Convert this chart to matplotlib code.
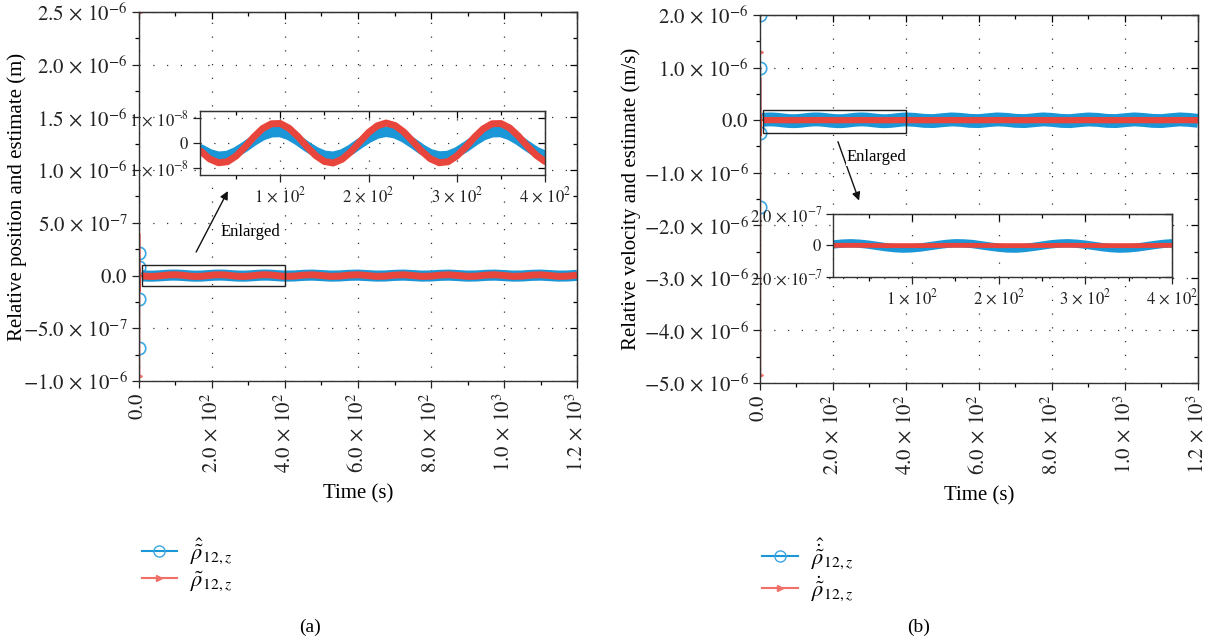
import numpy as np
import matplotlib.pyplot as plt
from matplotlib.lines import Line2D
from matplotlib.patches import Rectangle
from matplotlib.ticker import MultipleLocator, NullFormatter

plt.rcParams['font.family'] = ['Liberation Serif', 'DejaVu Serif']
plt.rcParams['mathtext.fontset'] = 'stix'

# time axis (s): short start-up transient, then the steady part
t_start = [0, 0.4, 0.8, 1.2, 1.6, 2.5, 4, 6, 8]
t_steady = list(range(10, 401, 10)) + list(range(425, 1201, 25))

# (a) relative position, in units of 1e-8 m
pos_est_start = [21, -69, -22, 8, -3, 1, -0.4, -0.3, -0.25]
pos_est_steady = [-0.26, -0.45, -0.55, -0.52, -0.37, -0.15, 0.10, 0.31, 0.43, 0.44,
                  0.32, 0.11, -0.14, -0.36, -0.51, -0.55, -0.46, -0.27, -0.02, 0.21,
                  0.38, 0.45, 0.39, 0.23, 0.00, -0.25, -0.45, -0.54, -0.52, -0.38,
                  -0.16, 0.09, 0.31, 0.43, 0.44, 0.32, 0.12, -0.13, -0.36, -0.51,
                  -0.37, 0.21, 0.44, -0.01, -0.51, -0.36, 0.22, 0.43, -0.02, -0.50,
                  -0.38, 0.20, 0.44, 0.00, -0.51, -0.37, 0.21, 0.45, -0.01, -0.52,
                  -0.36, 0.22, 0.43, -0.02, -0.50, -0.37, 0.21, 0.44, -0.01, -0.51,
                  -0.37, 0.20]
pos_err_start = [250, -95, 40, -15, 6, -2, 0.5, -0.2, -0.3]
pos_err_steady = [-0.33, -0.64, -0.79, -0.75, -0.52, -0.16, 0.24, 0.58, 0.77, 0.78,
                  0.59, 0.26, -0.14, -0.50, -0.74, -0.80, -0.65, -0.35, 0.04, 0.42,
                  0.69, 0.80, 0.70, 0.44, 0.07, -0.32, -0.63, -0.79, -0.75, -0.52,
                  -0.17, 0.23, 0.57, 0.77, 0.78, 0.60, 0.27, -0.13, -0.49, -0.74,
                  -0.52, 0.42, 0.78, 0.06, -0.74, -0.53, 0.41, 0.79, 0.05, -0.74,
                  -0.52, 0.42, 0.78, 0.07, -0.75, -0.52, 0.43, 0.78, 0.06, -0.74,
                  -0.51, 0.42, 0.79, 0.06, -0.74, -0.52, 0.41, 0.78, 0.06, -0.75,
                  -0.52, 0.42]

# (b) relative velocity, in units of 1e-7 m/s
vel_est_start = [20, -16.5, 10, -2.5, 1, -0.3, 0.1, 0.05, 0.05]
vel_est_steady = [0.07, 0.12, 0.14, 0.11, 0.05, -0.03, -0.11, -0.17, -0.20, -0.18,
                  -0.13, -0.05, 0.03, 0.10, 0.14, 0.13, 0.09, 0.01, -0.07, -0.14,
                  -0.19, -0.20, -0.16, -0.09, -0.01, 0.07, 0.12, 0.14, 0.11, 0.05,
                  -0.03, -0.11, -0.17, -0.20, -0.18, -0.13, -0.05, 0.03, 0.10, 0.14,
                  0.05, -0.14, -0.18, -0.01, 0.14, 0.05, -0.14, -0.18, -0.01, 0.14,
                  0.06, -0.13, -0.18, -0.02, 0.14, 0.05, -0.14, -0.19, -0.01, 0.13,
                  0.05, -0.14, -0.18, -0.01, 0.14, 0.04, -0.14, -0.18, -0.01, 0.14,
                  0.05, -0.13]
vel_err_start = [13, -48.5, 8, -3, 1, -0.2, 0.05, 0.0, 0.0]
vel_err_steady = [0.01, 0.01, 0.01, 0.01, 0.00, 0.00, -0.01, -0.01, -0.01, -0.01,
                  -0.01, 0.00, 0.00, 0.01, 0.01, 0.01, 0.01, 0.00, 0.00, -0.01,
                  -0.01, -0.01, -0.01, -0.01, 0.00, 0.00, 0.01, 0.01, 0.01, 0.00,
                  0.00, -0.01, -0.01, -0.01, -0.01, -0.01, 0.00, 0.00, 0.01, 0.01,
                  0.00, -0.01, -0.01, 0.00, 0.01, 0.00, -0.01, -0.01, 0.00, 0.01,
                  0.00, -0.01, -0.01, 0.00, 0.01, 0.00, -0.01, -0.01, 0.00, 0.01,
                  0.00, -0.01, -0.01, 0.00, 0.01, 0.00, -0.01, -0.01, 0.00, 0.01,
                  0.00, -0.01]

# tick labels
S = r'\,\times\,'
x_ticks = [0, 200, 400, 600, 800, 1000, 1200]
x_labels = [r'$0.0$', rf'$2.0{S}10^2$', rf'$4.0{S}10^2$', rf'$6.0{S}10^2$',
            rf'$8.0{S}10^2$', rf'$1.0{S}10^3$', rf'$1.2{S}10^3$']
pos_ticks = [-1e-6, -5e-7, 0, 5e-7, 1e-6, 1.5e-6, 2e-6, 2.5e-6]
pos_labels = [rf'$-1.0{S}10^{{-6}}$', rf'$-5.0{S}10^{{-7}}$', r'$0.0$', rf'$5.0{S}10^{{-7}}$',
              rf'$1.0{S}10^{{-6}}$', rf'$1.5{S}10^{{-6}}$', rf'$2.0{S}10^{{-6}}$', rf'$2.5{S}10^{{-6}}$']
vel_ticks = [-5e-6, -4e-6, -3e-6, -2e-6, -1e-6, 0, 1e-6, 2e-6]
vel_labels = [rf'$-5.0{S}10^{{-6}}$', rf'$-4.0{S}10^{{-6}}$', rf'$-3.0{S}10^{{-6}}$',
              rf'$-2.0{S}10^{{-6}}$', rf'$-1.0{S}10^{{-6}}$', r'$0.0$',
              rf'$1.0{S}10^{{-6}}$', rf'$2.0{S}10^{{-6}}$']
zoom_x_ticks = [100, 200, 300, 400]
zoom_x_labels = [rf'$1{S}10^2$', rf'$2{S}10^2$', rf'$3{S}10^2$', rf'$4{S}10^2$']
zoom_a_ticks = [-1e-8, 0, 1e-8]
zoom_a_labels = [rf'$1{S}10^{{-8}}$', r'$0$', rf'$1{S}10^{{-8}}$']
zoom_b_ticks = [-2e-7, 0, 2e-7]
zoom_b_labels = [rf'$2.0{S}10^{{-7}}$', r'$0$', rf'$2.0{S}10^{{-7}}$']

blue = '#1b96d6'
red = '#e8453c'
blue_mk = '#3aa7e2'
red_mk = '#f07068'
grid_ls = (0, (1, 10))

time = np.array(t_start + t_steady, dtype=float)
n0 = len(t_start)


def style_axes(ax, yticks, ylabels, ymin, fs, xt, xl, xminor):
    ax.set_xticks(xt)
    ax.set_xticklabels(xl)
    ax.xaxis.set_minor_locator(MultipleLocator(xminor))
    ax.set_yticks(yticks)
    ax.set_yticklabels(ylabels)
    if ymin:
        ax.yaxis.set_minor_locator(MultipleLocator(ymin))
    ax.tick_params(which='major', direction='out', length=5, width=0.9, labelsize=fs,
                   colors='#222', pad=3)
    ax.tick_params(which='minor', direction='out', length=3, width=0.9)
    ax.grid(which='major', linestyle=grid_ls, color='#333', lw=0.9)
    for s in ax.spines.values():
        s.set_color('#333')
        s.set_linewidth(1.0)
    sx = ax.secondary_xaxis('top')
    sx.set_xticks(xt)
    sx.xaxis.set_major_formatter(NullFormatter())
    sx.xaxis.set_minor_locator(MultipleLocator(xminor))
    sx.tick_params(which='major', direction='in', length=5, width=0.9)
    sx.tick_params(which='minor', direction='in', length=3, width=0.9)
    sy = ax.secondary_yaxis('right')
    sy.set_yticks(yticks)
    sy.yaxis.set_major_formatter(NullFormatter())
    if ymin:
        sy.yaxis.set_minor_locator(MultipleLocator(ymin))
    sy.tick_params(which='major', direction='in', length=5, width=0.9)
    sy.tick_params(which='minor', direction='in', length=3, width=0.9)


def draw_series(ax, est, err, lw_est, lw_err, markers=True):
    # thin start-up transient with markers, thick steady band afterwards
    ax.plot(time[:n0 + 1], est[:n0 + 1], color=blue, lw=1.2, marker='o', mfc='none',
            mec=blue_mk, ms=9, mew=1.2, markevery=[0, 1, 2, 3] if markers else [])
    ax.plot(time[:n0 + 1], err[:n0 + 1], color=red, lw=1.4, marker='>', mfc=red_mk,
            mec=red_mk, ms=4, markevery=[0, 1] if markers else [])
    ax.plot(time[n0 - 1:], est[n0 - 1:], color=blue, lw=lw_est, solid_capstyle='butt')
    ax.plot(time[n0 - 1:], err[n0 - 1:], color=red, lw=lw_err, solid_capstyle='butt')


fig = plt.figure(figsize=(12.15, 6.41), dpi=100)

# ---------------- (a) position ----------------
pos_est = np.array(pos_est_start + pos_est_steady) * 1e-8
pos_err = np.array(pos_err_start + pos_err_steady) * 1e-8

ax1 = fig.add_axes([0.1144, 0.4056, 0.3605, 0.5757])
draw_series(ax1, pos_est, pos_err, 8, 5)
ax1.set_xlim(0, 1200)
ax1.set_ylim(-1e-6, 2.5e-6)
style_axes(ax1, pos_ticks, pos_labels, 2.5e-7, 15, x_ticks, x_labels, 100)
plt.setp(ax1.get_xticklabels(), rotation=90)
ax1.set_xlabel('Time (s)', fontsize=15, labelpad=8)
ax1.set_ylabel('Relative position and estimate (m)', fontsize=15)
ax1.yaxis.set_label_coords(-0.256, 0.5)
ax1.add_patch(Rectangle((9, -1e-7), 391, 2e-7, fill=False, ec='#222', lw=1.0, zorder=5))
ax1.annotate('', xy=(247, 8.25e-7), xytext=(153, 2.0e-7),
             arrowprops=dict(arrowstyle='-|>', color='#111', lw=1.0, mutation_scale=12))
ax1.text(222, 4.1e-7, 'Enlarged', fontsize=12, va='center', ha='left')

ins1 = fig.add_axes([0.1646, 0.7270, 0.2840, 0.0998])
draw_series(ins1, pos_est, pos_err, 7.5, 5, markers=False)
ins1.set_xlim(9, 400)
ins1.set_ylim(-1.28e-8, 1.28e-8)
style_axes(ins1, zoom_a_ticks, zoom_a_labels, None, 12, zoom_x_ticks, zoom_x_labels, 50)

# ---------------- (b) velocity ----------------
vel_est = np.array(vel_est_start + vel_est_steady) * 1e-7
vel_err = np.array(vel_err_start + vel_err_steady) * 1e-7

ax2 = fig.add_axes([0.6255, 0.4025, 0.3605, 0.5741])
draw_series(ax2, vel_est, vel_err, 10, 4.5)
ax2.set_xlim(0, 1200)
ax2.set_ylim(-5e-6, 2e-6)
style_axes(ax2, vel_ticks, vel_labels, 5e-7, 15, x_ticks, x_labels, 100)
plt.setp(ax2.get_xticklabels(), rotation=90)
ax2.set_xlabel('Time (s)', fontsize=15, labelpad=8)
ax2.set_ylabel('Relative velocity and estimate (m/s)', fontsize=15)
ax2.yaxis.set_label_coords(-0.272, 0.5)
ax2.add_patch(Rectangle((9, -2.4e-7), 391, 4.3e-7, fill=False, ec='#222', lw=1.0, zorder=5))
ax2.annotate('', xy=(274, -1.58e-6), xytext=(211, -0.36e-6),
             arrowprops=dict(arrowstyle='-|>', color='#111', lw=1.0, mutation_scale=12))
ax2.text(238, -0.70e-6, 'Enlarged', fontsize=12, va='center', ha='left',
         bbox=dict(fc='white', ec='none', pad=0.5))

ins2 = fig.add_axes([0.6856, 0.5679, 0.2790, 0.0983])
draw_series(ins2, vel_est, vel_err, 6, 3.5, markers=False)
ins2.set_xlim(9, 400)
ins2.set_ylim(-2e-7, 2e-7)
style_axes(ins2, zoom_b_ticks, zoom_b_labels, None, 12, zoom_x_ticks, zoom_x_labels, 50)

# ---------------- legends and captions ----------------
def legend_handles():
    h1 = Line2D([], [], color=blue, lw=1.5, marker='o', mfc='none', mec=blue_mk, ms=8)
    h2 = Line2D([], [], color=red_mk, lw=1.5, marker='>', mfc=red_mk, mec=red_mk, ms=4)
    return [h1, h2]


fig.legend(legend_handles(), [r'$\hat{\tilde{\rho}}_{12,z}$', r'$\tilde{\rho}_{12,z}$'],
           loc='upper left', bbox_to_anchor=(0.1, 0.195), frameon=False, fontsize=16,
           handlelength=1.6, labelspacing=0.15, handletextpad=0.6)
fig.legend(legend_handles(), [r'$\hat{\dot{\tilde{\rho}}}_{12,z}$', r'$\dot{\tilde{\rho}}_{12,z}$'],
           loc='upper left', bbox_to_anchor=(0.611, 0.195), frameon=False, fontsize=16,
           handlelength=1.6, labelspacing=0.15, handletextpad=0.6)

fig.text(310 / 1215, 1 - 627 / 641, '(a)', ha='center', va='center', fontsize=14)
fig.text(919 / 1215, 1 - 627 / 641, '(b)', ha='center', va='center', fontsize=14)

fig.savefig('out.png', dpi=100)
